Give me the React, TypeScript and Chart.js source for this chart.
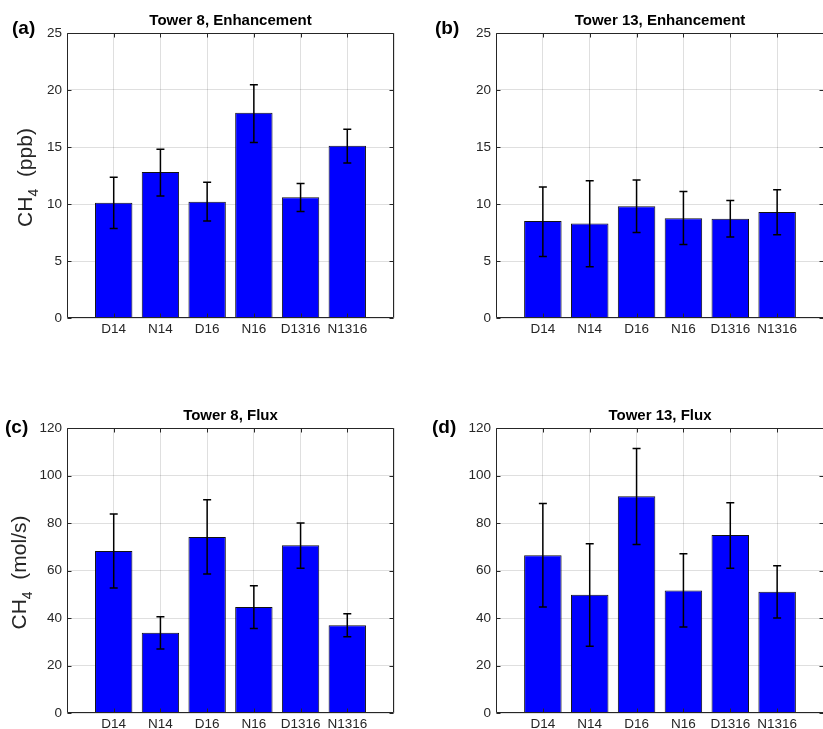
import React, { useEffect, useRef } from 'react';
import { Chart, registerables } from 'chart.js';

Chart.register(...registerables);

// ---------- data ----------
const categories = ['D14', 'N14', 'D16', 'N16', 'D1316', 'N1316'];

const enhTower8 = [10.1, 12.8, 10.2, 18.0, 10.6, 15.1];
const enhTower8Low = [7.85, 10.7, 8.5, 15.4, 9.35, 13.6];
const enhTower8High = [12.35, 14.8, 11.9, 20.45, 11.8, 16.55];

const enhTower13 = [8.5, 8.3, 9.8, 8.75, 8.7, 9.3];
const enhTower13Low = [5.4, 4.5, 7.5, 6.45, 7.1, 7.3];
const enhTower13High = [11.5, 12.05, 12.1, 11.1, 10.3, 11.25];

const fluxTower8 = [68.2, 33.8, 74.1, 44.6, 70.6, 36.9];
const fluxTower8Low = [52.6, 26.9, 58.5, 35.6, 60.9, 32.1];
const fluxTower8High = [83.8, 40.5, 89.8, 53.6, 80.0, 41.8];

const fluxTower13 = [66.4, 49.8, 91.3, 51.6, 75.0, 51.1];
const fluxTower13Low = [44.6, 28.1, 71.0, 36.2, 60.9, 40.0];
const fluxTower13High = [88.2, 71.3, 111.4, 67.1, 88.5, 62.0];

const enhAxisMax = 25;
const enhAxisStep = 5;
const fluxAxisMax = 120;
const fluxAxisStep = 20;

const titles = ['Tower 8, Enhancement', 'Tower 13, Enhancement', 'Tower 8, Flux', 'Tower 13, Flux'];
const letters = ['(a)', '(b)', '(c)', '(d)'];

// ---------- layout ----------
const FONT = '"Liberation Sans", Arial, Helvetica, sans-serif';
const TEXT = '#262626';

type Area = { l: number; t: number; r: number; b: number };
type PanelCfg = {
  left: number; top: number; width: number; height: number;
  area: Area;
  values: number[]; low: number[]; high: number[];
  yMax: number; yStep: number;
  title: string; letter: string; letterPos: [number, number];
  yTitle?: { main: string; sub: string; rest: string; x: number };
};

const panels: PanelCfg[] = [
  {
    left: 0, top: 0, width: 411, height: 365,
    area: { l: 67, t: 33, r: 394, b: 318 },
    values: enhTower8, low: enhTower8Low, high: enhTower8High,
    yMax: enhAxisMax, yStep: enhAxisStep,
    title: titles[0], letter: letters[0], letterPos: [12, 34],
    yTitle: { main: 'CH', sub: '4', rest: '  (ppb)', x: 32 },
  },
  {
    left: 411, top: 0, width: 420, height: 365,
    area: { l: 496, t: 33, r: 824, b: 318 },
    values: enhTower13, low: enhTower13Low, high: enhTower13High,
    yMax: enhAxisMax, yStep: enhAxisStep,
    title: titles[1], letter: letters[1], letterPos: [435, 34],
  },
  {
    left: 0, top: 365, width: 411, height: 364,
    area: { l: 67, t: 428, r: 394, b: 713 },
    values: fluxTower8, low: fluxTower8Low, high: fluxTower8High,
    yMax: fluxAxisMax, yStep: fluxAxisStep,
    title: titles[2], letter: letters[2], letterPos: [5, 433],
    yTitle: { main: 'CH', sub: '4', rest: '  (mol/s)', x: 26 },
  },
  {
    left: 411, top: 365, width: 420, height: 364,
    area: { l: 496, t: 428, r: 824, b: 713 },
    values: fluxTower13, low: fluxTower13Low, high: fluxTower13High,
    yMax: fluxAxisMax, yStep: fluxAxisStep,
    title: titles[3], letter: letters[3], letterPos: [432, 433],
  },
];

function makeDecor(p: PanelCfg) {
  return {
    id: 'decor',
    afterDatasetsDraw(chart: any) {
      const { ctx, chartArea: ca, scales } = chart;
      const xs = scales.x;
      const ys = scales.y;
      ctx.save();

      // error bars
      ctx.strokeStyle = '#000000';
      ctx.lineWidth = 1.5;
      for (let i = 0; i < p.values.length; i++) {
        const x = xs.getPixelForValue(i + 1);
        const yl = ys.getPixelForValue(p.low[i]);
        const yh = ys.getPixelForValue(p.high[i]);
        ctx.beginPath();
        ctx.moveTo(x, yl);
        ctx.lineTo(x, yh);
        ctx.moveTo(x - 4, yl);
        ctx.lineTo(x + 4, yl);
        ctx.moveTo(x - 4, yh);
        ctx.lineTo(x + 4, yh);
        ctx.stroke();
      }

      // box
      ctx.strokeStyle = TEXT;
      ctx.lineWidth = 1;
      const L = Math.round(ca.left) + 0.5;
      const R = Math.round(ca.right) - 0.5;
      const T = Math.round(ca.top) + 0.5;
      const B = Math.round(ca.bottom) - 0.5;
      ctx.beginPath();
      ctx.moveTo(L, T);
      ctx.lineTo(R, T);
      ctx.lineTo(R, B);
      ctx.lineTo(L, B);
      ctx.closePath();
      ctx.stroke();

      // inward ticks
      ctx.beginPath();
      for (const t of ys.ticks) {
        const py = Math.round(ys.getPixelForValue(t.value)) + 0.5;
        ctx.moveTo(L, py);
        ctx.lineTo(L + 4, py);
        ctx.moveTo(R, py);
        ctx.lineTo(R - 4, py);
      }
      for (let i = 1; i <= p.values.length; i++) {
        const px = Math.round(xs.getPixelForValue(i)) + 0.5;
        ctx.moveTo(px, B);
        ctx.lineTo(px, B - 4);
        ctx.moveTo(px, T);
        ctx.lineTo(px, T + 4);
      }
      ctx.stroke();

      // title
      ctx.fillStyle = '#000000';
      ctx.font = `bold 15px ${FONT}`;
      ctx.textAlign = 'center';
      ctx.textBaseline = 'alphabetic';
      ctx.fillText(p.title, (ca.left + ca.right) / 2, ca.top - 8);

      // panel letter
      ctx.font = `bold 19px ${FONT}`;
      ctx.textAlign = 'left';
      ctx.fillText(p.letter, p.letterPos[0] - p.left, p.letterPos[1] - p.top);

      // y title
      if (p.yTitle) {
        const yt = p.yTitle;
        const big = `21px ${FONT}`;
        const small = `14px ${FONT}`;
        ctx.font = big;
        const w1 = ctx.measureText(yt.main).width;
        const w3 = ctx.measureText(yt.rest).width;
        ctx.font = small;
        const w2 = ctx.measureText(yt.sub).width;
        const total = w1 + w2 + w3;
        ctx.translate(yt.x - p.left, (ca.top + ca.bottom) / 2 + 2);
        ctx.rotate(-Math.PI / 2);
        ctx.fillStyle = TEXT;
        ctx.textAlign = 'left';
        let x0 = -total / 2;
        ctx.font = big;
        ctx.fillText(yt.main, x0, 0);
        x0 += w1;
        ctx.font = small;
        ctx.fillText(yt.sub, x0, 6);
        x0 += w2;
        ctx.font = big;
        ctx.fillText(yt.rest, x0, 0);
      }
      ctx.restore();
    },
  };
}

function Panel({ p }: { p: PanelCfg }) {
  const ref = useRef<HTMLCanvasElement | null>(null);
  useEffect(() => {
    if (!ref.current) return;
    const a = p.area;
    const yWidth = a.l - p.left;
    const xHeight = p.top + p.height - a.b;
    const chart = new Chart(ref.current, {
      type: 'bar',
      data: {
        labels: ['', ...categories, ''],
        datasets: [
          {
            data: [null, ...p.values, null] as any,
            backgroundColor: '#0000ff',
            borderColor: '#111111',
            borderWidth: 1,
            barPercentage: 0.8,
            categoryPercentage: 1,
          },
        ],
      },
      options: {
        responsive: false,
        animation: false,
        devicePixelRatio: 1,
        layout: {
          padding: {
            left: 0,
            top: a.t - p.top,
            right: p.left + p.width - a.r,
            bottom: 0,
          },
        },
        plugins: {
          legend: { display: false },
          tooltip: { enabled: false },
          title: { display: false },
        },
        scales: {
          x: {
            type: 'category',
            offset: false,
            grid: {
              offset: false,
              color: 'rgba(38,38,38,0.15)',
              lineWidth: 1,
              drawTicks: false,
            },
            border: { display: false },
            ticks: {
              color: TEXT,
              font: { family: FONT, size: 13.5 },
              padding: 3,
              maxRotation: 0,
              autoSkip: false,
            },
            afterFit: (s: any) => {
              s.height = xHeight;
            },
          },
          y: {
            min: 0,
            max: p.yMax,
            grid: {
              color: 'rgba(38,38,38,0.15)',
              lineWidth: 1,
              drawTicks: false,
            },
            border: { display: false },
            ticks: {
              stepSize: p.yStep,
              color: TEXT,
              font: { family: FONT, size: 13.5 },
              padding: 5,
            },
            afterFit: (s: any) => {
              s.width = yWidth;
            },
          },
        },
      },
      plugins: [makeDecor(p)],
    });
    return () => chart.destroy();
  }, [p]);
  return (
    <canvas
      ref={ref}
      width={p.width}
      height={p.height}
      style={{
        position: 'absolute',
        left: p.left,
        top: p.top,
        width: p.width,
        height: p.height,
      }}
    />
  );
}

export default function App() {
  return (
    <div
      style={{
        position: 'fixed',
        left: 0,
        top: 0,
        width: 823,
        height: 729,
        background: '#ffffff',
        overflow: 'hidden',
      }}
    >
      {panels.map((p, i) => (
        <Panel key={i} p={p} />
      ))}
    </div>
  );
}
